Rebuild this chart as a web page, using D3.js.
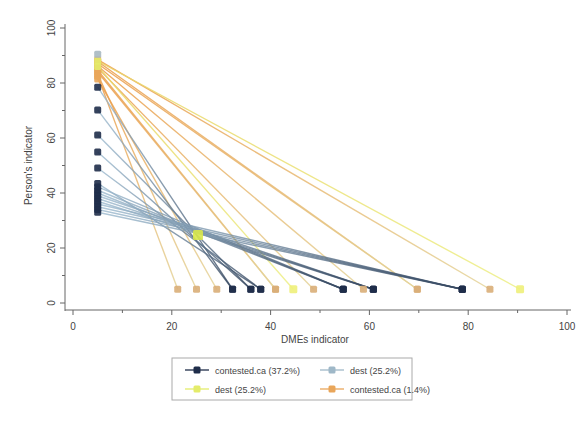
<!DOCTYPE html>
<html>
<head>
<meta charset="utf-8">
<script src="https://cdn.jsdelivr.net/npm/d3@7"></script>
<style>
  html, body { margin: 0; padding: 0; background: #fff; }
  svg { display: block; font-family: "Liberation Sans", Arial, sans-serif; }
</style>
</head>
<body>
<svg id="chart" width="584" height="425"></svg>
<script>
// Axis ticks
const xTicks = [0, 20, 40, 60, 80, 100];
const yTicks = [0, 20, 40, 60, 80, 100];
const minorTicks = [10, 30, 50, 70, 90];

// Left-end values (Person's indicator, placed at DMEs = 5)
const navyStartY = [78.5, 70.2, 61.1, 54.9, 49.1, 43.5, 42.2, 41.0, 40.0, 39.0, 38.0, 37.0, 36.0, 35.0, 34.0, 33.0];
// Bottom-end values (DMEs indicator, placed at Person's = 5)
const navyEndX   = [32.3, 32.3, 36.0, 36.0, 38.0, 38.0, 54.7, 54.7, 54.7, 60.8, 60.8, 60.8, 78.8, 78.8, 78.8, 78.8];

const orangeStartY = [88.5, 87.8, 87.0, 86.2, 85.5, 84.7, 84.0, 83.2, 82.5, 81.5];
const orangeEndX   = [84.4, 69.7, 69.7, 58.8, 48.7, 41.0, 41.0, 25.0, 21.2, 29.1];

const yellowStartY = [88.0, 86.0];
const yellowEndX   = [90.5, 44.6];

const tealStartY = [90.5];

// Pooled point where the lines cross
const pooled = { x: 25.3, y: 24.7 };

const START_X = 5;   // DMEs position of the left points
const END_Y = 5;     // Person's position of the bottom points

const legendLabels = ["contested.ca (37.2%)", "dest (25.2%)", "dest (25.2%)", "contested.ca (1.4%)"];
const legendColors = ["#1f2d4a", "#9fb8c8", "#e4ec6a", "#e9a65a"];

const svg = d3.select("#chart");
const x = d3.scaleLinear().domain([0, 100]).range([73, 567]);
const y = d3.scaleLinear().domain([0, 100]).range([303, 28]);

const defs = svg.append("defs");
let gid = 0;
function gradient(x1, y1, x2, y2, c1, c2) {
  const id = "g" + (gid++);
  const g = defs.append("linearGradient").attr("id", id)
    .attr("gradientUnits", "userSpaceOnUse")
    .attr("x1", x1).attr("y1", y1).attr("x2", x2).attr("y2", y2);
  g.append("stop").attr("offset", "0%").attr("stop-color", c1);
  g.append("stop").attr("offset", "100%").attr("stop-color", c2);
  return "url(#" + id + ")";
}

// Axes (offset from plot region)
const xAxisY = 310, yAxisX = 65;
const axisColor = "#666";
const gx = svg.append("g");
gx.append("line").attr("x1", x(0) - 8).attr("x2", x(100) + 4)
  .attr("y1", xAxisY).attr("y2", xAxisY).attr("stroke", axisColor);
xTicks.forEach(t => {
  gx.append("line").attr("x1", x(t)).attr("x2", x(t)).attr("y1", xAxisY).attr("y2", xAxisY + 5).attr("stroke", axisColor);
  gx.append("text").attr("x", x(t)).attr("y", xAxisY + 20).attr("text-anchor", "middle")
    .attr("font-size", 10).attr("fill", "#444").text(t);
});
minorTicks.forEach(t => {
  gx.append("line").attr("x1", x(t)).attr("x2", x(t)).attr("y1", xAxisY).attr("y2", xAxisY + 3).attr("stroke", axisColor);
});
svg.append("text").attr("x", 315).attr("y", 343).attr("text-anchor", "middle")
  .attr("font-size", 10).attr("fill", "#444").text("DMEs indicator");

const gy = svg.append("g");
gy.append("line").attr("x1", yAxisX).attr("x2", yAxisX)
  .attr("y1", y(100) - 4).attr("y2", y(0) + 8).attr("stroke", axisColor);
yTicks.forEach(t => {
  gy.append("line").attr("x1", yAxisX - 5).attr("x2", yAxisX).attr("y1", y(t)).attr("y2", y(t)).attr("stroke", axisColor);
  gy.append("text").attr("transform", `translate(${yAxisX - 10},${y(t)}) rotate(-90)`)
    .attr("text-anchor", "middle").attr("font-size", 10).attr("fill", "#444").text(t);
});
minorTicks.forEach(t => {
  gy.append("line").attr("x1", yAxisX - 3).attr("x2", yAxisX).attr("y1", y(t)).attr("y2", y(t)).attr("stroke", axisColor);
});
svg.append("text").attr("transform", `translate(32,${(y(100) + y(0)) / 2}) rotate(-90)`)
  .attr("text-anchor", "middle").attr("font-size", 10).attr("fill", "#444").text("Person's indicator");

// Lines from each left point to its bottom point
const gl = svg.append("g");
function drawLines(starts, ends, c1, c2, width, op) {
  starts.forEach((sy, i) => {
    const x1 = x(START_X), y1 = y(sy), x2 = x(ends[i]), y2 = y(END_Y);
    gl.append("line").attr("x1", x1).attr("y1", y1).attr("x2", x2).attr("y2", y2)
      .attr("stroke", gradient(x1, y1, x2, y2, c1, c2))
      .attr("stroke-width", width).attr("stroke-opacity", op);
  });
}
drawLines(orangeStartY, orangeEndX, "#eb9a45", "#e4d49a", 1.4, 0.85);
drawLines(yellowStartY, yellowEndX, "#e9d56a", "#eef08c", 1.4, 0.9);
drawLines(navyStartY, navyEndX, "#9dbbd0", "#34465f", 1.4, 0.8);

// Markers
const gm = svg.append("g");
function squares(pts, color, size) {
  gm.selectAll(null).data(pts).enter().append("rect")
    .attr("x", d => x(d[0]) - size / 2).attr("y", d => y(d[1]) - size / 2)
    .attr("width", size).attr("height", size).attr("rx", 1.5)
    .attr("fill", color).attr("fill-opacity", 0.9);
}
squares(orangeStartY.map(v => [START_X, v]), "#e9a65a", 7);
squares(orangeEndX.map(v => [v, END_Y]), "#d9ae78", 7);
squares(yellowEndX.map(v => [v, END_Y]), "#eef07a", 8);
squares(yellowStartY.map(v => [START_X, v]), "#e4ec6a", 7);
squares(tealStartY.map(v => [START_X, v]), "#a9b9c2", 7);
squares(navyStartY.map(v => [START_X, v]), "#1f2d4a", 7);
squares(navyEndX.map(v => [v, END_Y]), "#1f2d4a", 7);
squares([[pooled.x, pooled.y]], "#d9e84a", 10);

// Legend
const lg = svg.append("g");
lg.append("rect").attr("x", 172).attr("y", 358).attr("width", 240).attr("height", 42)
  .attr("fill", "#fff").attr("stroke", "#aaa");
const pos = [[185, 370], [320, 370], [185, 389], [320, 389]];
legendLabels.forEach((lab, i) => {
  const [lx, ly] = pos[i];
  lg.append("line").attr("x1", lx).attr("x2", lx + 24).attr("y1", ly).attr("y2", ly)
    .attr("stroke", legendColors[i]).attr("stroke-width", 1.3);
  lg.append("rect").attr("x", lx + 12 - 3.5).attr("y", ly - 3.5).attr("width", 7).attr("height", 7)
    .attr("rx", 1.5).attr("fill", legendColors[i]);
  lg.append("text").attr("x", lx + 30).attr("y", ly + 3.5).attr("font-size", 9)
    .attr("fill", "#444").text(lab);
});
</script>
</body>
</html>
